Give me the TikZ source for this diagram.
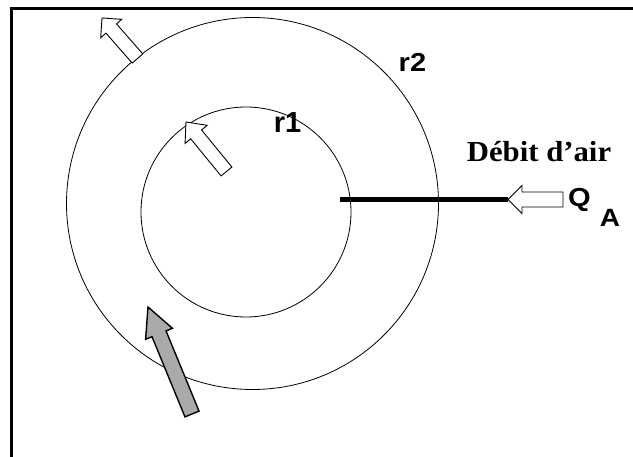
\documentclass[tikz,border=0pt]{standalone}
\usepackage{fontspec}
\usetikzlibrary{calc}
\newfontfamily\labsans{Liberation Sans}
\newfontfamily\labserif{Liberation Serif}
\definecolor{arrowgray}{RGB}{170,170,170}
\newcommand\fatarrow[6]{%
  \coordinate (fa-h) at ($(#3)!#6!(#2)$);
  \draw[#1] ($(#2)!#4!90:(#3)$) -- ($(fa-h)!#4!-90:(#2)$) -- ($(fa-h)!#5!-90:(#2)$)
    -- (#3) -- ($(fa-h)!#5!90:(#2)$) -- ($(fa-h)!#4!90:(#2)$) -- ($(#2)!#4!-90:(#3)$) -- cycle;}
\tikzset{
  frame/.style={line width=2.5pt},
  ring/.style={circle, draw, line width=0.8pt, inner sep=0pt},
  hollowarrow/.style={draw, fill=white, line width=0.9pt, line join=miter},
  grayarrow/.style={draw, fill=arrowgray, line width=1.4pt, line join=miter},
  sanslab/.style={inner sep=0pt, anchor=base},
  seriflab/.style={inner sep=0pt, anchor=base},
}
\begin{document}
\begin{tikzpicture}[x=1pt, y=-1pt]
\useasboundingbox (0,0) rectangle (633,457);
% frame (top and left sides only)
\coordinate (fbl) at (11.7,457);
\coordinate (ftl) at (11.7,8.5);
\coordinate (ftr) at (633,8.5);
\draw[frame] (fbl) -- (ftl) -- (ftr);
% circles
\node[ring, minimum size=372pt] (outer) at (252.5,203.5) {};
\node[ring, minimum size=210pt] (inner) at (246,212) {};
% air feed line
\coordinate (feedL) at (340,199.5);
\coordinate (qtip) at (508,199.5);
\coordinate (qtail) at (563,199.5);
\draw[line width=5.5pt] (feedL) -- (qtip);
\fatarrow{hollowarrow}{qtail}{qtip}{7.5pt}{14pt}{14pt}
% outward arrow on outer circle
\coordinate (a1tail) at (137.5,58.5);
\coordinate (a1tip) at (102,18);
\fatarrow{hollowarrow}{a1tail}{a1tip}{7pt}{14pt}{14pt}
% arrow towards inner circle
\coordinate (a2tail) at (226.5,171.5);
\coordinate (a2tip) at (186,122);
\fatarrow{hollowarrow}{a2tail}{a2tip}{7pt}{14.3pt}{16pt}
% gray arrow
\coordinate (a3tail) at (192,414);
\coordinate (a3tip) at (148,307);
\fatarrow{grayarrow}{a3tail}{a3tip}{7.6pt}{14.5pt}{29pt}
% labels
\node[sanslab, font=\labsans\bfseries\fontsize{26}{26}\selectfont] (r2) at (412.5,72) {\scalebox{1.12}[1]{r2}};
\node[sanslab, font=\labsans\bfseries\fontsize{29}{29}\selectfont] (r1) at (287.5,133) {r1};
\node[seriflab, font=\labserif\bfseries\fontsize{29}{29}\selectfont] (debit) at (539,162) {\scalebox{1.06}[1]{Débit d’air}};
\node[sanslab, font=\labsans\bfseries\fontsize{26}{26}\selectfont] (Q) at (579.5,207) {\scalebox{1.12}[1]{Q}};
\node[sanslab, font=\labsans\bfseries\fontsize{25}{25}\selectfont] (A) at (610,227) {\scalebox{1.12}[1]{A}};
\end{tikzpicture}
\end{document}
